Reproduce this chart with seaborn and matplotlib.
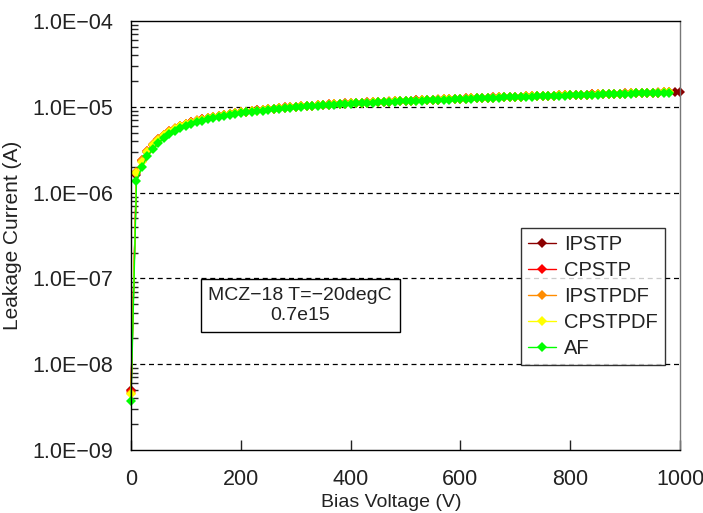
import numpy as np
import pandas as pd
import matplotlib
matplotlib.use("Agg")
import matplotlib.pyplot as plt
import seaborn as sns
from matplotlib.ticker import FuncFormatter, LogLocator, NullFormatter

# ---- data (leakage current in microamps) ----
voltage = list(range(0, 1010, 10))
series_names = ["IPSTP", "CPSTP", "IPSTPDF", "CPSTPDF", "AF"]
series_colors = ["#8B0000", "#FF0000", "#FF8C00", "#FFFF00", "#00FF00"]

IPSTP = [0.005, 1.62, 2.33, 2.98, 3.58, 4.14, 4.68, 5.14, 5.55, 5.94, 6.29, 6.6, 6.9, 7.16, 7.41, 7.66, 7.86, 8.06, 8.26, 8.46,
         8.62, 8.77, 8.92, 9.07, 9.22, 9.37, 9.52, 9.67, 9.81, 9.92, 10.02, 10.12, 10.22, 10.32, 10.42, 10.52, 10.62, 10.72, 10.82, 10.92,
         11.01, 11.08, 11.15, 11.22, 11.29, 11.36, 11.43, 11.5, 11.57, 11.64, 11.71, 11.78, 11.85, 11.92, 11.99, 12.06, 12.13, 12.2, 12.27, 12.34,
         12.41, 12.48, 12.55, 12.62, 12.69, 12.76, 12.83, 12.9, 12.96, 13.02, 13.08, 13.14, 13.2, 13.26, 13.32, 13.38, 13.44, 13.5, 13.56, 13.62,
         13.68, 13.74, 13.8, 13.86, 13.92, 13.98, 14.04, 14.1, 14.16, 14.22, 14.28, 14.34, 14.4, 14.46, 14.52, 14.58, 14.64, 14.7, 14.76, 14.82, 14.88]
CPSTP = [0.0049, 1.7, 2.38, 3.02, 3.62, 4.18, 4.72, 5.18, 5.58, 5.97, 6.32, 6.62, 6.92, 7.18, 7.43, 7.68, 7.88, 8.08, 8.28, 8.48,
         8.64, 8.79, 8.94, 9.09, 9.24, 9.39, 9.54, 9.69, 9.83, 9.94, 10.04, 10.14, 10.24, 10.34, 10.44, 10.54, 10.64, 10.74, 10.84, 10.94,
         11.03, 11.1, 11.17, 11.24, 11.31, 11.38, 11.45, 11.52, 11.59, 11.66, 11.73, 11.8, 11.87, 11.94, 12.01, 12.08, 12.15, 12.22, 12.29, 12.36,
         12.43, 12.5, 12.57, 12.64, 12.71, 12.78, 12.85, 12.92, 12.98, 13.04, 13.1, 13.16, 13.22, 13.28, 13.34, 13.4, 13.46, 13.52, 13.58, 13.64,
         13.7, 13.76, 13.82, 13.88, 13.94, 14.0, 14.06, 14.12, 14.18, 14.24, 14.3, 14.36, 14.42, 14.48, 14.54, 14.6, 14.66, 14.72, 14.78]
IPSTPDF = [0.0046, 1.75, 2.4, 3.05, 3.65, 4.2, 4.75, 5.2, 5.6, 6.0, 6.35, 6.65, 6.95, 7.2, 7.45, 7.7, 7.9, 8.1, 8.3, 8.5,
           8.65, 8.8, 8.95, 9.1, 9.25, 9.4, 9.55, 9.7, 9.85, 9.95, 10.05, 10.15, 10.25, 10.35, 10.45, 10.55, 10.65, 10.75, 10.85, 10.95,
           11.05, 11.12, 11.19, 11.26, 11.33, 11.4, 11.47, 11.54, 11.61, 11.68, 11.75, 11.82, 11.89, 11.96, 12.03, 12.1, 12.17, 12.24, 12.31, 12.38,
           12.45, 12.52, 12.59, 12.66, 12.73, 12.8, 12.87, 12.94, 13.0, 13.06, 13.12, 13.18, 13.24, 13.3, 13.36, 13.42, 13.48, 13.54, 13.6, 13.66,
           13.72, 13.78, 13.84, 13.9, 13.96, 14.02, 14.08, 14.14, 14.2, 14.26, 14.32, 14.38, 14.44, 14.5, 14.56, 14.62, 14.68, 14.74, 14.8]
CPSTPDF = [0.0045, 1.67, 2.3, 2.95, 3.55, 4.1, 4.65, 5.1, 5.5, 5.9, 6.25, 6.55, 6.85, 7.1, 7.35, 7.6, 7.8, 8.0, 8.2, 8.4,
           8.6, 8.75, 8.9, 9.05, 9.2, 9.35, 9.5, 9.65, 9.8, 9.9, 10.0, 10.1, 10.2, 10.3, 10.4, 10.5, 10.6, 10.7, 10.8, 10.9,
           11.0, 11.07, 11.14, 11.21, 11.28, 11.35, 11.42, 11.49, 11.56, 11.63, 11.7, 11.77, 11.84, 11.91, 11.98, 12.05, 12.12, 12.19, 12.26, 12.33,
           12.4, 12.47, 12.54, 12.61, 12.68, 12.75, 12.82, 12.89, 12.95, 13.01, 13.07, 13.13, 13.19, 13.25, 13.31, 13.37, 13.43, 13.49, 13.55, 13.61,
           13.67, 13.73, 13.79, 13.85, 13.91, 13.97, 14.03, 14.09, 14.15, 14.21, 14.27, 14.33, 14.39, 14.45, 14.51, 14.57, 14.63, 14.69, 14.75]
AF = [0.0037, 1.35, 2.0, 2.65, 3.25, 3.8, 4.35, 4.85, 5.25, 5.65, 6.0, 6.3, 6.6, 6.9, 7.15, 7.4, 7.6, 7.8, 8.0, 8.2,
      8.4, 8.6, 8.75, 8.9, 9.05, 9.2, 9.35, 9.5, 9.65, 9.8, 9.9, 10.0, 10.1, 10.2, 10.3, 10.4, 10.5, 10.6, 10.7, 10.8,
      10.9, 10.97, 11.04, 11.11, 11.18, 11.25, 11.32, 11.39, 11.46, 11.53, 11.6, 11.67, 11.74, 11.81, 11.88, 11.95, 12.02, 12.09, 12.16, 12.23,
      12.3, 12.37, 12.44, 12.51, 12.58, 12.65, 12.72, 12.79, 12.85, 12.91, 12.97, 13.03, 13.09, 13.15, 13.21, 13.27, 13.33, 13.39, 13.45, 13.51,
      13.57, 13.63, 13.69, 13.75, 13.81, 13.87, 13.93, 13.99, 14.05, 14.11, 14.17, 14.23, 14.29, 14.35, 14.41, 14.47, 14.53, 14.59, 14.65]

y_ticks = [1e-9, 1e-8, 1e-7, 1e-6, 1e-5, 1e-4]
x_ticks = [0, 200, 400, 600, 800, 1000]

rows = []
for name, vals in zip(series_names, [IPSTP, CPSTP, IPSTPDF, CPSTPDF, AF]):
    for v, i in zip(voltage, vals):
        rows.append({"Bias Voltage (V)": v, "Leakage Current (A)": i * 1e-6, "series": name})
df = pd.DataFrame(rows)

sns.set_theme(style="white")
plt.rcParams["font.family"] = ["Liberation Sans", "DejaVu Sans"]
NARROW = ["Liberation Sans Narrow", "Liberation Sans", "DejaVu Sans"]
TXT = "#222222"

fig = plt.figure(figsize=(7.03, 5.13), dpi=100)
ax = fig.add_axes([131 / 703, 1 - 450 / 513, 549 / 703, 429 / 513])

sns.lineplot(data=df, x="Bias Voltage (V)", y="Leakage Current (A)", hue="series",
             hue_order=series_names, palette=series_colors, marker="D", markersize=5,
             markeredgewidth=0, linewidth=1.0, sort=False, estimator=None, ax=ax)
for ln in ax.lines:
    ln.set_clip_on(False)

ax.set_yscale("log")
ax.set_ylim(1e-9, 1e-4)
ax.set_xlim(0, 1000)
ax.set_xticks(x_ticks)
ax.set_yticks(y_ticks)
ax.yaxis.set_minor_locator(LogLocator(base=10, subs=np.arange(2, 10)))
ax.yaxis.set_minor_formatter(NullFormatter())
ax.yaxis.set_major_formatter(FuncFormatter(lambda v, p: f"{v:.1E}".replace("-", "\u2212")))

for yv in y_ticks[1:-1]:
    ax.axhline(yv, color="black", lw=0.9, ls=(0, (4, 3)), zorder=0)

ax.tick_params(axis="x", which="major", direction="in", length=7, width=1, pad=14,
               labelsize=15.5, colors=TXT, bottom=True)
ax.tick_params(axis="y", which="major", direction="in", length=0, pad=13,
               labelsize=15.5, colors=TXT, left=True)
ax.tick_params(axis="y", which="minor", direction="in", length=5, width=1, left=True)
for lab in ax.get_xticklabels() + ax.get_yticklabels():
    lab.set_family(NARROW)

for s in ax.spines.values():
    s.set_color("black")
    s.set_linewidth(1.0)
ax.spines["right"].set_color("#777777")

ax.set_xlabel("Bias Voltage (V)", fontsize=14, color=TXT)
ax.set_ylabel("Leakage Current (A)", fontsize=15, color=TXT)
ax.xaxis.set_label_coords((391 - 131) / 549, (450 - 494) / 429)
ax.yaxis.set_label_coords((22 - 131) / 549, 0.5)

ax.text(0.308, 0.336, "MCZ\u221218 T=\u221220degC\n0.7e15", transform=ax.transAxes,
        ha="center", va="center", fontsize=14, color=TXT, linespacing=1.25,
        bbox=dict(boxstyle="square,pad=0.4", fc="white", ec="black", lw=1))

leg = ax.legend(loc="upper left", bbox_to_anchor=(0.71, 0.517), borderaxespad=0,
                fontsize=14.5, frameon=True, fancybox=False, handlelength=1.4,
                labelspacing=0.35, handletextpad=0.4, borderpad=0.35, markerscale=1.0)
leg.get_frame().set_edgecolor("black")
leg.get_frame().set_linewidth(1.0)
for t in leg.get_texts():
    t.set_color(TXT)

fig.savefig("out.png", dpi=100)
